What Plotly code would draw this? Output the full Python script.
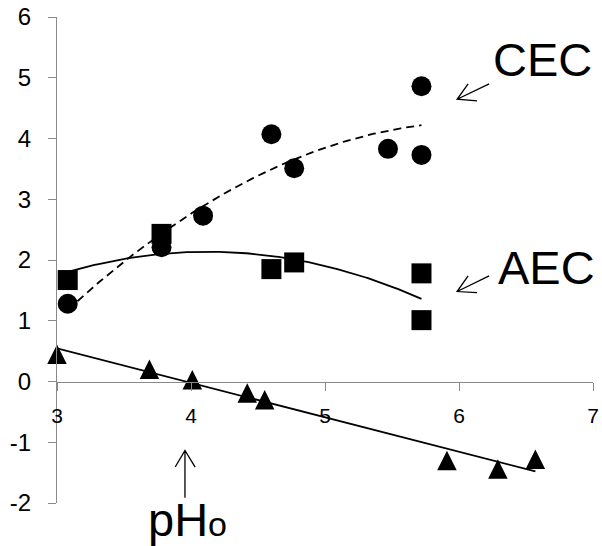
import numpy as np
import plotly.graph_objects as go

# Exchange capacity (cmol/kg) against soil pH
cec_ph = [3.08, 3.78, 4.09, 4.60, 4.77, 5.47, 5.72, 5.72]
cec_val = [1.28, 2.21, 2.73, 4.07, 3.51, 3.83, 3.73, 4.86]

aec_ph = [3.08, 3.78, 4.60, 4.77, 5.72, 5.72]
aec_val = [1.67, 2.43, 1.85, 1.96, 1.78, 1.01]

net_ph = [3.00, 3.69, 4.01, 4.42, 4.55, 5.91, 6.29, 6.57]
net_val = [0.45, 0.20, 0.03, -0.19, -0.30, -1.30, -1.44, -1.28]

x_ticks = [3, 4, 5, 6, 7]
y_ticks = [-2, -1, 0, 1, 2, 3, 4, 5, 6]
y_tick_text = [str(v) for v in y_ticks]  # plain hyphen for negatives

AXIS_GREY = "#8a8a8a"
FONT = "Liberation Sans, Arial, sans-serif"


def trend(x, y, deg):
    """Least-squares polynomial trendline over the span of the data."""
    coef = np.polyfit(x, y, deg)
    xs = np.linspace(min(x), max(x), 120)
    return xs, np.polyval(coef, xs)


fig = go.Figure()

# trendlines
tx, ty = trend(cec_ph, cec_val, 2)
fig.add_trace(go.Scatter(x=tx, y=ty, mode="lines", cliponaxis=False,
                         line=dict(color="black", width=1.8, dash="8px,5px")))
tx, ty = trend(aec_ph, aec_val, 2)
fig.add_trace(go.Scatter(x=tx, y=ty, mode="lines", cliponaxis=False,
                         line=dict(color="black", width=1.8)))
tx, ty = trend(net_ph, net_val, 1)
fig.add_trace(go.Scatter(x=tx, y=ty, mode="lines", cliponaxis=False,
                         line=dict(color="black", width=1.8)))

# data points
fig.add_trace(go.Scatter(x=cec_ph, y=cec_val, mode="markers", cliponaxis=False,
                         marker=dict(symbol="circle", size=20, color="black",
                                     line=dict(width=0))))
fig.add_trace(go.Scatter(x=aec_ph, y=aec_val, mode="markers", cliponaxis=False,
                         marker=dict(symbol="square", size=20, color="black",
                                     line=dict(width=0))))
# equilateral-looking triangles: arrow head flipped upward and centred on the point
fig.add_trace(go.Scatter(x=net_ph, y=net_val, mode="markers", cliponaxis=False,
                         marker=dict(symbol="arrow-down", size=19.5, angle=180,
                                     standoff=9.75, color="black",
                                     line=dict(width=0))))

# labels with thin open arrows
arrow_style = dict(type="path", xref="x", yref="y", layer="above",
                   line=dict(color="black", width=1.3))
fig.add_shape(path="M6.225,4.898 L5.986,4.646 M6.068,4.898 L5.986,4.646 L6.135,4.618",
              **arrow_style)
fig.add_shape(path="M6.225,1.739 L5.986,1.481 M6.068,1.739 L5.986,1.481 L6.135,1.464",
              **arrow_style)
fig.add_shape(path="M3.955,-1.913 L3.955,-1.135 M3.882,-1.408 L3.955,-1.135 L4.031,-1.408",
              **arrow_style)

label_font = dict(family=FONT, size=47, color="black")
fig.add_annotation(x=6.621, y=5.293, text="CEC", showarrow=False,
                   xanchor="center", yanchor="middle", font=label_font)
fig.add_annotation(x=6.651, y=1.879, text="AEC", showarrow=False,
                   xanchor="center", yanchor="middle", font=label_font)
fig.add_annotation(x=3.975, xref="x", y=-0.034, yref="paper",
                   text='pH<span style="font-size:34px">o</span>',
                   showarrow=False, xanchor="center", yanchor="middle",
                   font=label_font)

fig.update_layout(
    width=602, height=546,
    margin=dict(l=57, r=9, t=17, b=43, autoexpand=False),
    plot_bgcolor="white", paper_bgcolor="white",
    showlegend=False,
    xaxis=dict(range=[3, 7], tickvals=x_ticks, showgrid=False, zeroline=False,
               showline=True, linecolor=AXIS_GREY, linewidth=1.3,
               ticks="outside", ticklen=8, tickwidth=1.3, tickcolor=AXIS_GREY,
               anchor="free", position=0.25, ticklabelstandoff=7,
               automargin=False,
               tickfont=dict(family=FONT, size=21, color="black")),
    yaxis=dict(range=[-2, 6], tickvals=y_ticks, ticktext=y_tick_text,
               showgrid=False, zeroline=False,
               showline=True, linecolor=AXIS_GREY, linewidth=1.3,
               ticks="outside", ticklen=8, tickwidth=1.3, tickcolor=AXIS_GREY,
               ticklabelstandoff=12, automargin=False,
               tickfont=dict(family=FONT, size=24, color="black")),
)

fig.write_html("out.html")
